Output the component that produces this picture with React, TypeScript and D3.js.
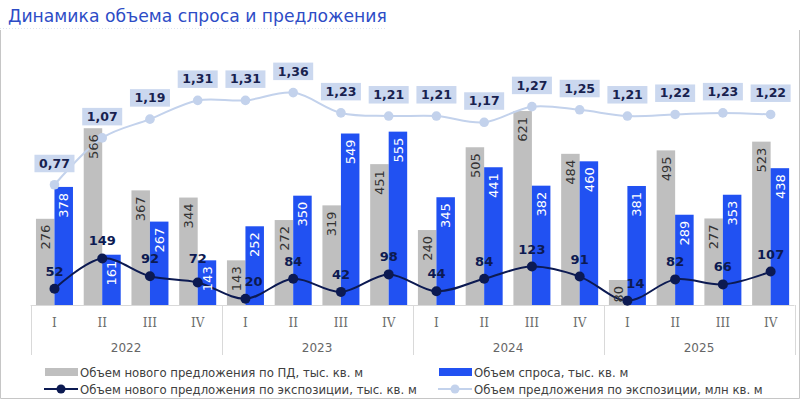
import { useEffect, useRef } from "react"
import * as d3 from "d3"

const years = ["2022", "2023", "2024", "2025"]
const quarters = ["I", "II", "III", "IV"]

// Объем нового предложения по ПД, тыс. кв. м
const newSupplyPD = [276, 566, 367, 344, 143, 272, 319, 451, 240, 505, 621, 484, 80, 495, 277, 523]
// Объем спроса, тыс. кв. м
const demand = [378, 161, 267, 143, 252, 350, 549, 555, 345, 441, 382, 460, 381, 289, 353, 438]
// Объем нового предложения по экспозиции, тыс. кв. м
const newSupplyExpo = [52, 149, 92, 72, 20, 84, 42, 98, 44, 84, 123, 91, 14, 82, 66, 107]
// Объем предложения по экспозиции, млн кв. м
const supplyExpo = [0.77, 1.07, 1.19, 1.31, 1.31, 1.36, 1.23, 1.21, 1.21, 1.17, 1.27, 1.25, 1.21, 1.22, 1.23, 1.22]

const legendItems = [
  "Объем нового предложения по ПД, тыс. кв. м",
  "Объем спроса, тыс. кв. м",
  "Объем нового предложения по экспозиции, тыс. кв. м",
  "Объем предложения по экспозиции, млн кв. м",
]

const GREY = "#bfbfbf"
const BLUE = "#2151f2"
const NAVY = "#0c1a52"
const LIGHT = "#c3d2ec"
const BOX = "#cbd8ef"
const FONT = "'DejaVu Sans', Verdana, sans-serif"

interface Box {
  x0: number
  x1: number
  y0: number
  y1: number
}

const overlaps = (a: Box, b: Box) => a.x0 < b.x1 && b.x0 < a.x1 && a.y0 < b.y1 && b.y0 < a.y1

export default function App() {
  const svgRef = useRef<SVGSVGElement>(null)

  useEffect(() => {
    if (!svgRef.current) return
    d3.select(svgRef.current).selectAll("*").remove()

    const width = 800
    const height = 399
    const baseY = 305
    const plotTop = 39.5
    const left = 30.6
    const right = 794.5

    const svg = d3.select(svgRef.current).attr("width", width).attr("height", height)

    const periods = years.flatMap((y) => quarters.map((q) => `${y}-${q}`))

    const x = d3.scaleBand<string>().domain(periods).range([left, right]).padding(0)
    const xSeries = d3.scaleBand<string>().domain(["pd", "demand"]).range([-18.5, 18.5])
    const y = d3.scaleLinear().domain([0, 850]).range([baseY, plotTop])
    const y2 = d3.scaleLinear().domain([0, 1.7]).range([baseY, plotTop])
    const cx = (i: number) => x(periods[i])! + x.bandwidth() / 2
    const barW = xSeries.bandwidth()

    // frame
    svg
      .append("path")
      .attr("d", `M0.5,30 V398.5 H799.5 V30`)
      .attr("fill", "none")
      .attr("stroke", "#c6c6c6")

    // title
    svg
      .append("text")
      .attr("x", 8)
      .attr("y", 21.5)
      .attr("font-family", FONT)
      .attr("font-size", 17.2)
      .attr("fill", "#2d4cc6")
      .text("Динамика объема спроса и предложения")
    svg
      .append("line")
      .attr("x1", 0)
      .attr("x2", 386)
      .attr("y1", 28.5)
      .attr("y2", 28.5)
      .attr("stroke", "#dde3f0")
      .attr("stroke-dasharray", "1,2")

    // axis
    svg
      .append("line")
      .attr("x1", left)
      .attr("x2", right)
      .attr("y1", baseY + 0.5)
      .attr("y2", baseY + 0.5)
      .attr("stroke", "#d9d9d9")
    svg
      .selectAll("line.sep")
      .data(d3.range(years.length + 1))
      .enter()
      .append("line")
      .attr("class", "sep")
      .attr("x1", (d) => Math.round(left + d * 4 * x.bandwidth()) + 0.5)
      .attr("x2", (d) => Math.round(left + d * 4 * x.bandwidth()) + 0.5)
      .attr("y1", baseY)
      .attr("y2", 355)
      .attr("stroke", "#d9d9d9")

    svg
      .selectAll("text.q")
      .data(periods)
      .enter()
      .append("text")
      .attr("class", "q")
      .attr("x", (_, i) => cx(i))
      .attr("y", 326.5)
      .attr("text-anchor", "middle")
      .attr("font-family", "'DejaVu Serif', serif")
      .attr("font-size", 12)
      .attr("fill", "#6a6a6a")
      .text((d) => d.split("-")[1])

    svg
      .selectAll("text.yr")
      .data(years)
      .enter()
      .append("text")
      .attr("class", "yr")
      .attr("x", (_, i) => left + (i * 4 + 2) * x.bandwidth())
      .attr("y", 351.5)
      .attr("text-anchor", "middle")
      .attr("font-family", FONT)
      .attr("font-size", 12)
      .attr("fill", "#666")
      .text((d) => d)

    // bars
    const bars: { key: string; values: number[]; fill: string; label: string }[] = [
      { key: "pd", values: newSupplyPD, fill: GREY, label: "#333" },
      { key: "demand", values: demand, fill: BLUE, label: "#fff" },
    ]
    bars.forEach((s) => {
      svg
        .selectAll(`rect.${s.key}`)
        .data(s.values)
        .enter()
        .append("rect")
        .attr("class", s.key)
        .attr("x", (_, i) => cx(i) + xSeries(s.key)!)
        .attr("y", (d) => y(d))
        .attr("width", barW)
        .attr("height", (d) => baseY - y(d))
        .attr("fill", s.fill)
    })

    // light line (secondary axis)
    const lightLine = d3
      .line<number>()
      .x((_, i) => cx(i))
      .y((d) => y2(d))
      .curve(d3.curveCatmullRom.alpha(0.5))
    svg
      .append("path")
      .attr("d", lightLine(supplyExpo))
      .attr("fill", "none")
      .attr("stroke", LIGHT)
      .attr("stroke-width", 2)
    svg
      .selectAll("circle.light")
      .data(supplyExpo)
      .enter()
      .append("circle")
      .attr("class", "light")
      .attr("cx", (_, i) => cx(i))
      .attr("cy", (d) => y2(d))
      .attr("r", 4.8)
      .attr("fill", LIGHT)

    // navy line
    const navyLine = d3
      .line<number>()
      .x((_, i) => cx(i))
      .y((d) => y(d))
      .curve(d3.curveCatmullRom.alpha(0.5))
    svg
      .append("path")
      .attr("d", navyLine(newSupplyExpo))
      .attr("fill", "none")
      .attr("stroke", NAVY)
      .attr("stroke-width", 2)
    svg
      .selectAll("circle.navy")
      .data(newSupplyExpo)
      .enter()
      .append("circle")
      .attr("class", "navy")
      .attr("cx", (_, i) => cx(i))
      .attr("cy", (d) => y(d))
      .attr("r", 5)
      .attr("fill", NAVY)

    // bar labels (on top of lines)
    const barLabelBoxes: Box[][] = periods.map(() => [])
    bars.forEach((s) => {
      svg
        .selectAll(`text.${s.key}`)
        .data(s.values)
        .enter()
        .append("text")
        .attr("class", s.key)
        .attr("transform", (d, i) => {
          const bx = cx(i) + xSeries(s.key)! + barW / 2
          const len = String(d).length * 8.3
          barLabelBoxes[i].push({ x0: bx - 5, x1: bx + 5, y0: y(d) + 6, y1: y(d) + 6 + len })
          return `translate(${bx},${y(d) + 6}) rotate(-90)`
        })
        .attr("text-anchor", "end")
        .attr("dy", "0.36em")
        .attr("font-family", FONT)
        .attr("font-size", 13)
        .attr("fill", s.label)
        .text((d) => d)
    })

    // light line labels in boxes
    const fmt = (v: number) => v.toFixed(2).replace(".", ",")
    svg
      .selectAll("rect.box")
      .data(supplyExpo)
      .enter()
      .append("rect")
      .attr("class", "box")
      .attr("x", (_, i) => cx(i) - 20)
      .attr("y", (d) => y2(d) - 30)
      .attr("width", 40)
      .attr("height", 17.5)
      .attr("fill", BOX)
    svg
      .selectAll("text.box")
      .data(supplyExpo)
      .enter()
      .append("text")
      .attr("class", "box")
      .attr("x", (_, i) => cx(i))
      .attr("y", (d) => y2(d) - 17)
      .attr("text-anchor", "middle")
      .attr("font-family", FONT)
      .attr("font-weight", "bold")
      .attr("font-size", 12.5)
      .attr("fill", "#18224f")
      .text((d) => fmt(d))

    // navy labels: above the point, nudged away from bar labels
    const navyPos = newSupplyExpo.map((d, i) => {
      const px = cx(i)
      const base = y(d) - 13
      const w = String(d).length * 8.2
      const boxAt = (dx: number, b: number): Box => ({ x0: px + dx - w / 2, x1: px + dx + w / 2, y0: b - 9.5, y1: b })
      const free = (bx: Box) => !barLabelBoxes[i].some((o) => overlaps(bx, o))
      if (free(boxAt(0, base))) return { x: px, y: base }
      if (free(boxAt(8, base))) return { x: px + 8, y: base }
      const top = d3.min(barLabelBoxes[i].filter((o) => overlaps(boxAt(0, base), o)), (o) => o.y0)!
      return { x: px, y: top - 3 }
    })
    svg
      .selectAll("text.navy")
      .data(newSupplyExpo)
      .enter()
      .append("text")
      .attr("class", "navy")
      .attr("x", (_, i) => navyPos[i].x)
      .attr("y", (_, i) => navyPos[i].y)
      .attr("text-anchor", "middle")
      .attr("font-family", FONT)
      .attr("font-weight", "bold")
      .attr("font-size", 13)
      .attr("fill", NAVY)
      .text((d) => d)

    // legend
    const lg = svg
      .append("g")
      .attr("font-family", "'DejaVu Sans Condensed', 'DejaVu Sans', sans-serif")
      .attr("font-size", 13)
      .attr("fill", "#404040")
    const cols = [44, 438]
    const rows = [372, 389]
    legendItems.forEach((label, i) => {
      const lx = cols[i % 2]
      const ly = rows[Math.floor(i / 2)]
      if (i < 2) {
        lg.append("rect")
          .attr("x", lx + 1)
          .attr("y", ly - 4)
          .attr("width", 33)
          .attr("height", 8)
          .attr("fill", i === 0 ? GREY : BLUE)
      } else {
        const c = i === 2 ? NAVY : LIGHT
        lg.append("line")
          .attr("x1", lx)
          .attr("x2", lx + 34)
          .attr("y1", ly)
          .attr("y2", ly)
          .attr("stroke", c)
          .attr("stroke-width", 2)
        lg.append("circle").attr("cx", lx + 17).attr("cy", ly).attr("r", 4.5).attr("fill", c)
      }
      lg.append("text")
        .attr("x", lx + 36)
        .attr("y", ly)
        .attr("dy", "0.36em")
        .text(label)
    })
  }, [])

  return <svg ref={svgRef} style={{ position: "absolute", left: 0, top: 0, background: "#fff" }} />
}
